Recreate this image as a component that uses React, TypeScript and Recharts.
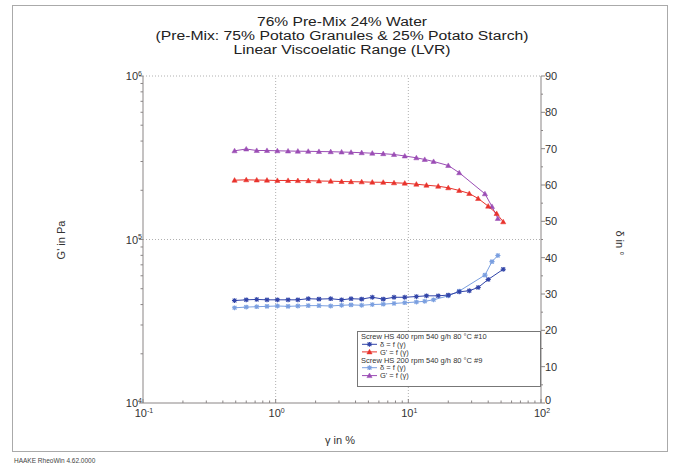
import React from 'react';
import { LineChart, Line, XAxis, YAxis, ReferenceLine } from 'recharts';

// ---- data ----
const strain10 = [0.49, 0.6, 0.72, 0.86, 1.03, 1.24, 1.47, 1.76, 2.12, 2.6, 3.14, 3.7, 4.45, 5.35, 6.47, 7.8, 9.4, 11.5, 13.7, 16.8, 20, 24.2, 28.8, 33.6, 40, 46.3, 51.9];
const gPrime10 = [230500, 231800, 231100, 230500, 229600, 229600, 229200, 229000, 227900, 227300, 226300, 225700, 225200, 224100, 223800, 222200, 221000, 217900, 214800, 211800, 207200, 199400, 191100, 178100, 159900, 144200, 128300];
const delta10: (number | null)[] = [28.2, 28.4, 28.5, 28.4, 28.4, 28.4, 28.4, 28.7, 28.6, 28.7, 28.4, 28.7, 28.6, 29.1, 28.6, 29.1, 29.1, 29.3, 29.5, 29.5, 29.7, 30.6, 30.9, 31.8, 34.0, null, 36.8];

const strain9 = [0.49, 0.6, 0.72, 0.86, 1.03, 1.24, 1.47, 1.76, 2.12, 2.6, 3.14, 3.7, 4.45, 5.35, 6.47, 7.8, 9.4, 11.5, 13.3, 15.5, 20, 24.2, 37.8, 42.7, 47.3];
const gPrime9 = [348700, 357700, 350200, 350200, 348700, 347700, 346800, 346200, 345300, 344300, 342900, 341400, 339500, 337100, 334800, 331100, 324200, 316000, 308600, 300000, 283500, 255900, 190300, 159200, 134400];
const delta9 = [26.2, 26.4, 26.5, 26.6, 26.7, 26.6, 26.7, 26.8, 26.8, 26.7, 26.9, 27.0, 26.9, 27.1, 27.2, 27.4, 27.6, 27.8, 28.0, 28.4, 29.5, 30.8, 35.2, 38.9, 40.6];

const xTicks = [0.1, 0.2, 0.3, 0.4, 0.5, 0.6, 0.7, 0.8, 0.9, 1, 2, 3, 4, 5, 6, 7, 8, 9, 10, 20, 30, 40, 50, 60, 70, 80, 90, 100];
const gTicks = [1e4, 2e4, 3e4, 4e4, 5e4, 6e4, 7e4, 8e4, 9e4, 1e5, 2e5, 3e5, 4e5, 5e5, 6e5, 7e5, 8e5, 9e5, 1e6];
const dTicks = [0, 5, 10, 15, 20, 25, 30, 35, 40, 45, 50, 55, 60, 65, 70, 75, 80, 85, 90];

const titleLines = [
  '76% Pre-Mix 24% Water',
  '(Pre-Mix: 75% Potato Granules & 25% Potato Starch)',
  'Linear Viscoelatic Range (LVR)',
];
const legendGroup10 = 'Screw HS 400 rpm 540 g/h 80 °C #10';
const legendGroup9 = 'Screw HS 200 rpm 540 g/h 80 °C #9';

const gRows10 = strain10.map((s, i) => ({ strain: s, v: gPrime10[i] }));
const dRows10 = strain10.map((s, i) => ({ strain: s, v: delta10[i] })).filter((r) => r.v !== null);
const gRows9 = strain9.map((s, i) => ({ strain: s, v: gPrime9[i] }));
const dRows9 = strain9.map((s, i) => ({ strain: s, v: delta9[i] }));

const FONT = 'Liberation Sans, Arial, sans-serif';
const RED = '#e8332c';
const PURPLE = '#9b4db5';
const DARKBLUE = '#3144a8';
const LIGHTBLUE = '#7a9fe0';
const AXIS = '#8a8585';

const isMajor = (v: number) => {
  const l = Math.log10(v);
  return Math.abs(l - Math.round(l)) < 1e-6;
};

const Tri = ({ cx, cy, color }: any) => (
  <path d={`M${cx - 2.6},${cy + 2} L${cx + 2.6},${cy + 2} L${cx},${cy - 2.6} Z`} fill={color} stroke={color} strokeWidth={0.5} />
);
const Star = ({ cx, cy, color }: any) => (
  <path
    d={`M${cx - 2.6},${cy} L${cx + 2.6},${cy} M${cx - 1.9},${cy - 1.9} L${cx + 1.9},${cy + 1.9} M${cx - 1.9},${cy + 1.9} L${cx + 1.9},${cy - 1.9} M${cx},${cy - 2.4} L${cx},${cy + 2.4}`}
    stroke={color}
    strokeWidth={1.1}
    fill="none"
  />
);

const makeDot = (Shape: any, color: string) => (p: any) => {
  const k = p.key ?? `d-${p.index}`;
  if (p.cx == null || p.cy == null) return <g key={k} />;
  return (
    <g key={k}>
      <Shape cx={p.cx} cy={p.cy} color={color} />
    </g>
  );
};

const XTick = (props: any) => {
  const { x, y, payload } = props;
  const v = payload.value;
  const major = isMajor(v);
  const exp = Math.round(Math.log10(v));
  return (
    <g>
      <line x1={x} x2={x} y1={y} y2={y - (major ? 4 : 2.5)} stroke={AXIS} />
      {major && (
        <text x={x + 1} y={y + 14} textAnchor="middle" fontSize={11} fill="#333" fontFamily={FONT}>
          10
          <tspan dy={-4.5} fontSize={7}>
            {exp}
          </tspan>
        </text>
      )}
    </g>
  );
};

const GTick = (props: any) => {
  const { x, y, payload } = props;
  const v = payload.value;
  const major = isMajor(v);
  const exp = Math.round(Math.log10(v));
  return (
    <g>
      <line x1={x} x2={x - (major ? 4 : 2.5)} y1={y} y2={y} stroke={AXIS} />
      {major && (
        <text x={x - 1} y={y + 4} textAnchor="end" fontSize={11} fill="#333" fontFamily={FONT}>
          10
          <tspan dy={-4.5} fontSize={7}>
            {exp}
          </tspan>
        </text>
      )}
    </g>
  );
};

const DTick = (props: any) => {
  const { x, y, payload } = props;
  const v = payload.value;
  const major = v % 10 === 0;
  return (
    <g>
      <line x1={x} x2={x + (major ? 4 : 2)} y1={y} y2={y} stroke={AXIS} />
      {major && (
        <text x={x + 4} y={v === 0 ? y + 1 : y + 4} textAnchor="start" fontSize={11} fill="#333" fontFamily={FONT}>
          {v}
        </text>
      )}
    </g>
  );
};

const Overlay = () => {
  const legendItem = (y: number, color: string, Shape: any, label: string) => (
    <g>
      <line x1={362} x2={377} y1={y} y2={y} stroke={color} strokeWidth={1} />
      <Shape cx={369.5} cy={y} color={color} />
      <text x={380} y={y + 2.6} fontSize={7.5} fill="#333" fontFamily={FONT}>
        {label}
      </text>
    </g>
  );
  return (
    <svg width={680} height={468} style={{ position: 'absolute', left: 0, top: 0, pointerEvents: 'none' }}>
      <rect x={12.5} y={5.5} width={655} height={446} fill="none" stroke="#aaa" strokeWidth={1} />
      {titleLines.map((t, i) => (
        <text
          key={i}
          x={342}
          y={26 + i * 13.8}
          textAnchor="middle"
          fontSize={12}
          fill="#222"
          fontFamily={FONT}
          textLength={[170, 373, 217][i]}
          lengthAdjust="spacingAndGlyphs"
        >
          {t}
        </text>
      ))}
      <text x={0} y={0} transform="translate(65,240) rotate(-90)" textAnchor="middle" fontSize={11} fill="#333" fontFamily={FONT}>
        G' in Pa
      </text>
      <text x={0} y={0} transform="translate(616,243) rotate(90)" textAnchor="middle" fontSize={11} fill="#333" fontFamily={FONT}>
        δ in °
      </text>
      <text x={340} y={444} textAnchor="middle" fontSize={11} fill="#333" fontFamily={FONT}>
        γ in %
      </text>
      <rect x={357.5} y={331.5} width={183} height={55} fill="#fff" stroke="#777" strokeWidth={1} />
      <text x={361} y={339.4} fontSize={7.5} fill="#333" fontFamily={FONT}>
        {legendGroup10}
      </text>
      {legendItem(344.3, DARKBLUE, Star, 'δ = f (γ)')}
      {legendItem(351.9, RED, Tri, "G' = f (γ)")}
      <text x={361} y={362.6} fontSize={7.5} fill="#333" fontFamily={FONT}>
        {legendGroup9}
      </text>
      {legendItem(367.7, LIGHTBLUE, Star, 'δ = f (γ)')}
      {legendItem(375.6, PURPLE, Tri, "G' = f (γ)")}
      <text x={14} y={463} fontSize={6.5} fill="#444" fontFamily={FONT}>
        HAAKE RheoWin 4.62.0000
      </text>
    </svg>
  );
};

export default function App() {
  return (
    <div style={{ position: 'absolute', left: 0, top: 0, width: 680, height: 468, background: '#fff' }}>
      <LineChart width={680} height={468} margin={{ top: 76, right: 79, bottom: 35, left: 83 }}>
        <XAxis
          xAxisId="x"
          dataKey="strain"
          type="number"
          scale="log"
          domain={[0.1, 100]}
          allowDataOverflow
          ticks={xTicks}
          interval={0}
          height={30}
          tickSize={0}
          tickMargin={0}
          tickLine={false}
          axisLine={{ stroke: AXIS }}
          tick={<XTick />}
        />
        <YAxis
          yAxisId="g"
          type="number"
          scale="log"
          domain={[1e4, 1e6]}
          allowDataOverflow
          ticks={gTicks}
          interval={0}
          width={60}
          tickSize={0}
          tickMargin={0}
          tickLine={false}
          axisLine={{ stroke: AXIS }}
          tick={<GTick />}
        />
        <YAxis
          yAxisId="d"
          orientation="right"
          type="number"
          domain={[0, 90]}
          allowDataOverflow
          ticks={dTicks}
          interval={0}
          width={60}
          tickSize={0}
          tickMargin={0}
          tickLine={false}
          axisLine={{ stroke: AXIS }}
          tick={<DTick />}
        />
        <ReferenceLine xAxisId="x" yAxisId="g" x={1} stroke="#b0b0b0" strokeDasharray="1 2" />
        <ReferenceLine xAxisId="x" yAxisId="g" x={10} stroke="#b0b0b0" strokeDasharray="1 2" />
        <ReferenceLine xAxisId="x" yAxisId="g" y={1e5} stroke="#b0b0b0" strokeDasharray="1 2" />
        <ReferenceLine xAxisId="x" yAxisId="g" y={1e6} stroke="#b0b0b0" strokeDasharray="1 2" />
        <Line
          xAxisId="x"
          yAxisId="g"
          data={gRows9}
          dataKey="v"
          stroke={PURPLE}
          strokeWidth={1}
          dot={makeDot(Tri, PURPLE)}
          activeDot={false}
          isAnimationActive={false}
        />
        <Line
          xAxisId="x"
          yAxisId="g"
          data={gRows10}
          dataKey="v"
          stroke={RED}
          strokeWidth={1}
          dot={makeDot(Tri, RED)}
          activeDot={false}
          isAnimationActive={false}
        />
        <Line
          xAxisId="x"
          yAxisId="d"
          data={dRows9}
          dataKey="v"
          stroke={LIGHTBLUE}
          strokeWidth={1}
          dot={makeDot(Star, LIGHTBLUE)}
          activeDot={false}
          isAnimationActive={false}
        />
        <Line
          xAxisId="x"
          yAxisId="d"
          data={dRows10}
          dataKey="v"
          stroke={DARKBLUE}
          strokeWidth={1}
          dot={makeDot(Star, DARKBLUE)}
          activeDot={false}
          isAnimationActive={false}
        />
      </LineChart>
      <Overlay />
    </div>
  );
}
